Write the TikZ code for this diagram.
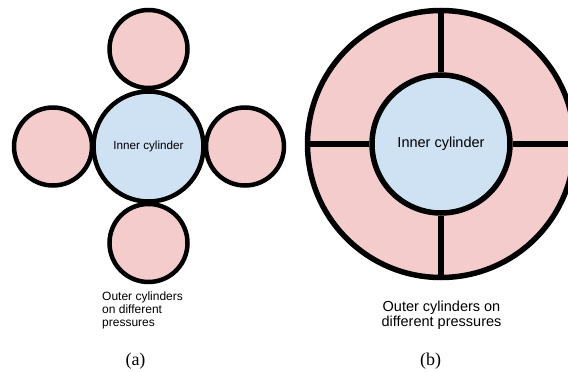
\documentclass[tikz,border=0pt]{standalone}
\usepackage{fontspec}
\setmainfont{Liberation Serif}
\setsansfont{Liberation Sans}
\definecolor{cylpink}{HTML}{F4CCCC}
\definecolor{cylblue}{HTML}{CFE2F3}
\begin{document}
\begin{tikzpicture}[x=1pt, y=-1pt,
		outercyl/.style={draw, circle, fill=cylpink, line width=4.5pt, inner sep=0, minimum size=78pt},
		innercyl/.style={draw, circle, fill=cylblue, inner sep=0, font=\sffamily},
		caption/.style={inner sep=0, font=\fontsize{18}{18}\selectfont, anchor=base}]
			\useasboundingbox (0,0) rectangle (568,372);
			\clip (0,0) rectangle (568,372);
			% (a)
			\node (o1) [outercyl] at (148.5,49) {};
			\node (o2) [outercyl] at (53,146.5) {};
			\node (o3) [outercyl] at (245,146.5) {};
			\node (o4) [outercyl] at (148.5,243) {};
			\node (i1) [innercyl, line width=4.5pt, minimum size=110pt, font=\sffamily\fontsize{11.7}{12}\selectfont] at (148.5,146.5) {Inner cylinder};
			\node (t1) [anchor=north west, align=left, inner sep=0, font=\sffamily\fontsize{12}{13}\selectfont] at (102,292) {Outer cylinders\\on different\\pressures};
			\node (a) [caption] at (135.5,365) {(a)};
			% (b)
			\node (r2) [draw, circle, fill=cylpink, line width=5.5pt, inner sep=0, minimum size=267pt] at (441,144) {};
			\node (i2) [innercyl, line width=5.5pt, minimum size=138pt, font=\sffamily\fontsize{14.5}{15}\selectfont] at (441,144) {Inner cylinder};
			\draw[line width=5.5pt] (r2.north) -- (i2.north);
			\draw[line width=5.5pt] (r2.south) -- (i2.south);
			\draw[line width=5.5pt] (r2.west) -- (i2.west);
			\draw[line width=5.5pt] (r2.east) -- (i2.east);
			\node (t2) [anchor=north, align=center, inner sep=0, font=\sffamily\fontsize{14.5}{14.5}\selectfont] at (441.5,301) {Outer cylinders on\\different pressures};
			\node (b) [caption] at (430.5,365) {(b)};
		\end{tikzpicture}
\end{document}
